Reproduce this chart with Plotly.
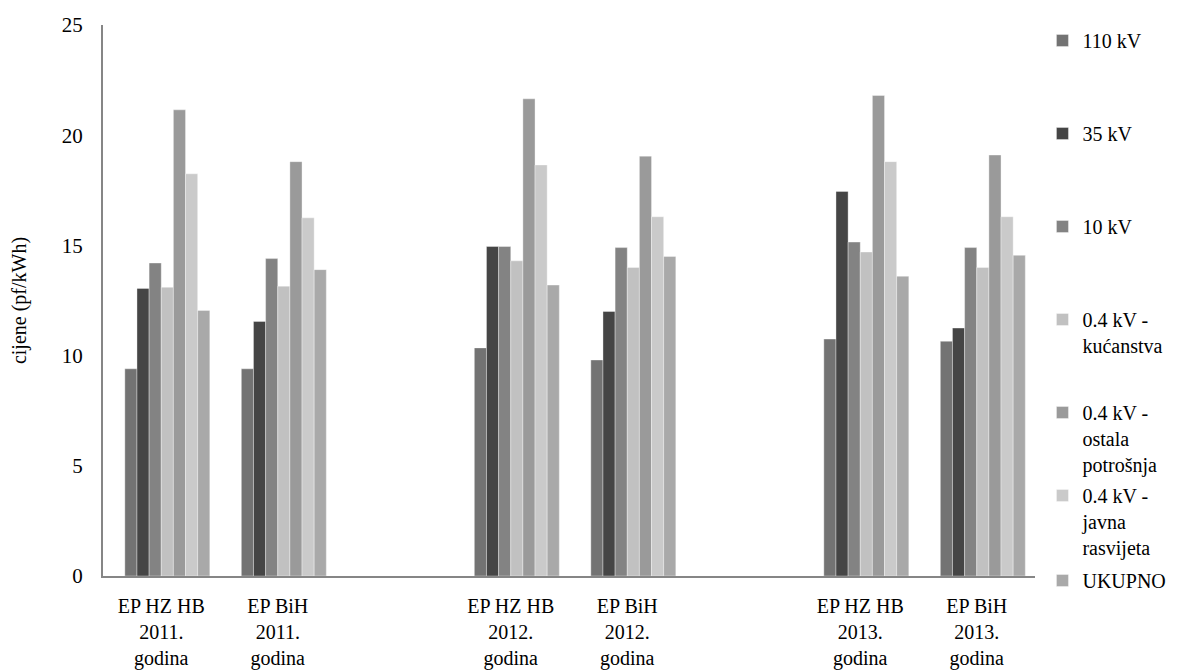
import plotly.graph_objects as go

categories = ["EP HZ HB<br>2011.<br>godina", "EP BiH<br>2011.<br>godina",
              "EP HZ HB<br>2012.<br>godina", "EP BiH<br>2012.<br>godina",
              "EP HZ HB<br>2013.<br>godina", "EP BiH<br>2013.<br>godina"]
axis_order = [categories[0], categories[1], " ", categories[2], categories[3], "  ",
              categories[4], categories[5]]

series_names = ["110 kV", "35 kV", "10 kV", "0.4 kV -<br>kućanstva",
                "0.4 kV -<br>ostala<br>potrošnja", "0.4 kV -<br>javna<br>rasvijeta", "UKUPNO"]
v110 = [9.4, 9.4, 10.35, 9.8, 10.75, 10.65]
v35 = [13.05, 11.55, 14.95, 12.0, 17.45, 11.25]
v10 = [14.2, 14.4, 14.95, 14.9, 15.15, 14.9]
v04_kuc = [13.1, 13.15, 14.3, 14.0, 14.7, 14.0]
v04_ost = [21.15, 18.8, 21.65, 19.05, 21.8, 19.1]
v04_jav = [18.25, 16.25, 18.65, 16.3, 18.8, 16.3]
v_uk = [12.05, 13.9, 13.2, 14.5, 13.6, 14.55]
series_values = [v110, v35, v10, v04_kuc, v04_ost, v04_jav, v_uk]

colors = ["#737373", "#454545", "#838383", "#c1c1c1", "#9a9a9a", "#cacaca", "#a9a9a9"]

FONT = "Liberation Serif, Times New Roman, serif"
bar_w = 0.1042
# legend item tops (page pixels)
legend_tops_px = [21, 114, 207, 300, 393, 476, 561]

fig = go.Figure()
layout_legends = {}
for i, (name, vals, col) in enumerate(zip(series_names, series_values, colors)):
    lg = "legend" if i == 0 else f"legend{i+1}"
    fig.add_trace(go.Bar(
        x=categories, y=vals, name=name, legend=lg,
        marker=dict(color=col, line=dict(color="rgba(255,255,255,0.6)", width=0.6)),
        width=bar_w, offset=(i - 3) * bar_w,
    ))
    layout_legends[lg] = dict(
        x=1.008, xanchor="left",
        y=(576 - legend_tops_px[i]) / 551, yanchor="top",
        valign="top", bgcolor="rgba(0,0,0,0)",
        font=dict(family=FONT, size=20, color="#000000"),
    )

fig.update_layout(
    width=1192, height=663,
    margin=dict(l=95, r=165, t=17, b=95, autoexpand=False),
    plot_bgcolor="white", paper_bgcolor="white",
    font=dict(family=FONT, size=21, color="#000000"),
    barmode="overlay",
    showlegend=True,
    xaxis=dict(
        type="category", categoryorder="array", categoryarray=axis_order,
        range=[-0.5, 7.5], showline=True, linecolor="#868686", linewidth=2,
        ticks="", showgrid=False, tickfont=dict(family=FONT, size=20),
        ticklabelstandoff=11, fixedrange=True, automargin=False,
    ),
    yaxis=dict(
        range=[0, 25], dtick=5, showline=True, linecolor="#868686", linewidth=2,
        ticks="", showgrid=False, zeroline=False, tickfont=dict(family=FONT, size=21),
        title=dict(text="cijene (pf/kWh)", font=dict(family=FONT, size=20), standoff=30),
        ticklabelstandoff=14, automargin=False,
    ),
    **layout_legends,
)

fig.write_html("out.html")
